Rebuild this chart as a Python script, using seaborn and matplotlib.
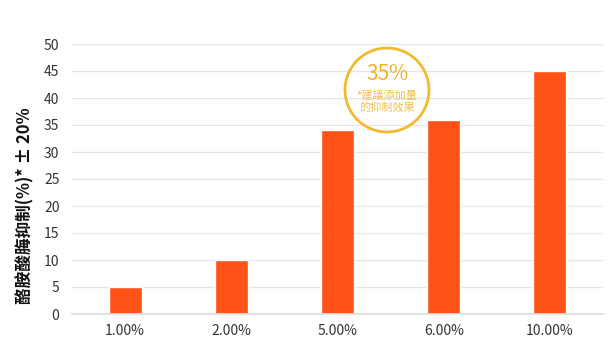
import matplotlib
matplotlib.use("Agg")
import matplotlib.pyplot as plt
import seaborn as sns
import pandas as pd
from matplotlib.patches import Circle
from matplotlib.transforms import IdentityTransform

categories = ["1.00%", "2.00%", "5.00%", "6.00%", "10.00%"]
values = [5, 10, 34, 36, 45]
yticks = [0, 5, 10, 15, 20, 25, 30, 35, 40, 45, 50]
ylabel = "酪胺酸脢抑制(%)* ± 20%"
badge_big = "35%"
badge_small = "*建議添加量\n的抑制效果"

sns.set_theme(style="white")
plt.rcParams['font.family'] = ['Noto Sans CJK TC', 'DejaVu Sans']

df = pd.DataFrame({"cat": categories, "val": values})

fig = plt.figure(figsize=(6.16, 3.42), dpi=100)
ax = fig.add_axes([72/616, 1-314/342, (603-72)/616, (314-44)/342])
sns.barplot(data=df, x="cat", y="val", color="#FF5216", saturation=1, width=0.31, ax=ax)

ax.set_ylim(0, 50)
ax.set_yticks(yticks)
ax.yaxis.grid(True, color="#E6E6E6", linewidth=1)
ax.set_axisbelow(True)
for s in ["top", "right", "left"]:
    ax.spines[s].set_visible(False)
ax.spines["bottom"].set_color("#DDDDDD")
ax.tick_params(axis="both", length=0, labelsize=10, colors="#333333", pad=7)
ax.tick_params(axis="y", pad=9)
ax.set_xlabel("")
ax.set_ylabel(ylabel, fontsize=12, color="#111111", fontweight="bold")
ax.yaxis.set_label_coords(-0.071, 0.40)

circ = Circle((387, 342-90), 42, transform=IdentityTransform(), fill=False,
              edgecolor="#F2BA2E", linewidth=2, clip_on=False)
fig.patches.append(circ)
fig.text(387/616, 1-74/342, badge_big, ha="center", va="center", fontsize=15, color="#F2B228")
fig.text(387/616, 1-101/342, badge_small, ha="center", va="center", fontsize=8, color="#F2C050", linespacing=1.15)

fig.savefig("out.png", dpi=100)
